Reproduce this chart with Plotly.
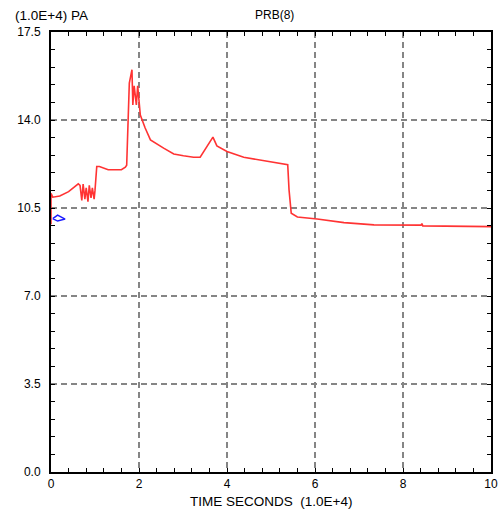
import plotly.graph_objects as go

# Red series: PRB(8) pressure (1.0E+4 PA) vs time (1.0E+4 s)
red_x = [0.0, 0.0, 0.04, 0.2, 0.4, 0.62, 0.66, 0.70, 0.73, 0.77, 0.80, 0.84, 0.87, 0.91, 0.94, 0.98, 1.0,
         1.04, 1.1, 1.3, 1.6, 1.69, 1.72, 1.74, 1.78, 1.84, 1.86, 1.89, 1.94, 1.97, 2.0, 2.03,
         2.14, 2.26, 2.56, 2.79, 3.01, 3.24, 3.39, 3.62, 3.68, 3.77, 4.0, 4.38, 4.91, 5.38,
         5.41, 5.46, 5.60, 6.05, 6.66, 7.34, 8.41, 8.43, 8.45, 10.0]
red_y = [9.85, 11.08, 10.93, 10.98, 11.15, 11.46, 11.4, 10.8, 11.45, 10.85, 11.3, 10.75, 11.4, 10.9, 11.3, 10.85, 11.2,
         12.15, 12.15, 12.02, 12.02, 12.12, 12.2, 13.68, 15.47, 16.0, 14.6, 15.36, 14.6, 15.36, 14.6, 14.2,
         13.68, 13.21, 12.88, 12.65, 12.58, 12.52, 12.52, 13.14, 13.32, 12.97, 12.75, 12.52, 12.35, 12.22,
         11.22, 10.29, 10.14, 10.06, 9.92, 9.83, 9.82, 9.88, 9.79, 9.76]

# Blue series: small loop near the start
blue_x = [0.04, 0.15, 0.32, 0.15, 0.04]
blue_y = [10.08, 10.22, 10.06, 9.98, 10.08]

x_ticks = [0, 2, 4, 6, 8, 10]
y_ticks = [0.0, 3.5, 7.0, 10.5, 14.0, 17.5]
y_labels = ["0.0", "3.5", "7.0", "10.5", "14.0", "17.5"]

font = dict(family="Liberation Sans, Arial, sans-serif", size=12, color="#000000")
font_big = dict(family="Liberation Sans, Arial, sans-serif", size=13.5, color="#000000")

fig = go.Figure()
fig.add_trace(go.Scatter(x=red_x, y=red_y, mode="lines",
                         line=dict(color="#ff3333", width=1.6), showlegend=False))
fig.add_trace(go.Scatter(x=blue_x, y=blue_y, mode="lines",
                         line=dict(color="#1a1aff", width=1.5), showlegend=False))

fig.update_layout(
    width=504, height=513,
    margin=dict(l=51, r=13, t=32, b=41),
    paper_bgcolor="white", plot_bgcolor="white",
    font=font,
    showlegend=False,
)

fig.update_xaxes(
    range=[0, 10], tickvals=x_ticks, ticktext=[str(v) for v in x_ticks],
    showline=True, linecolor="black", linewidth=2, mirror="allticks",
    ticks="inside", ticklen=4, tickcolor="black", automargin=False,
    minor=dict(dtick=0.4, tick0=0, ticks="inside", ticklen=4, tickcolor="black", showgrid=False),
    showgrid=True, gridcolor="#858585", griddash="6px,4px", gridwidth=1.5,
    zeroline=False, tickfont=font, ticklabelstandoff=0,
)
fig.update_yaxes(
    range=[0, 17.5], tickvals=y_ticks, ticktext=y_labels,
    showline=True, linecolor="black", linewidth=2, mirror="allticks",
    ticks="inside", ticklen=4, tickcolor="black", automargin=False,
    minor=dict(dtick=0.7, tick0=0, ticks="inside", ticklen=4, tickcolor="black", showgrid=False),
    showgrid=True, gridcolor="#858585", griddash="6px,4px", gridwidth=1.5,
    zeroline=False, tickfont=font, ticklabelstandoff=6,
)

fig.add_annotation(text="(1.0E+4) PA", xref="paper", yref="paper", x=-0.086, y=1.0386,
                   xanchor="left", yanchor="middle", showarrow=False, font=font_big)
fig.add_annotation(text="PRB(8)", xref="paper", yref="paper", x=0.507, y=1.0386,
                   xanchor="center", yanchor="middle", showarrow=False, font=font)
fig.add_annotation(text="TIME SECONDS  (1.0E+4)", xref="paper", yref="paper", x=0.5, y=-0.068,
                   xanchor="center", yanchor="middle", showarrow=False, font=font_big)

# remove the browser's default 8px body margin so the figure fills the window exactly
fig.write_html("out.html", config={"displayModeBar": False},
               post_script="document.body.style.margin='0';document.body.style.overflow='hidden';")
